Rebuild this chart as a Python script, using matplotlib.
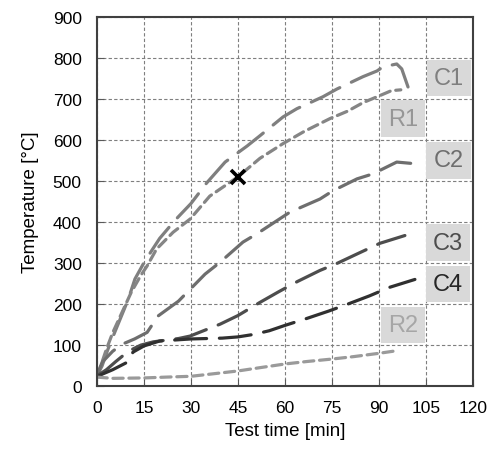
import matplotlib
matplotlib.use('Agg')
import matplotlib.pyplot as plt

plt.rcParams['font.family'] = ['Liberation Sans', 'DejaVu Sans']

# Datos
c1_t = [0, 1.6, 3.5, 5.7, 10, 12.1, 15.3, 20, 25, 30, 35, 40.9, 47.9, 52, 59.4, 63.8, 72.1, 76.6, 84.9, 89.4, 91.3, 95.7, 97.3, 99.3]
c1_T = [25, 49, 90, 132, 212, 261, 305, 360, 405, 445, 495, 546, 585, 610, 656, 676, 705, 724, 754, 768, 778, 785, 773, 729]

r1_t = [0, 1, 3, 5, 8, 11, 14, 16, 19, 24.3, 29.7, 36, 45, 52, 59.4, 66, 74.4, 80, 85, 90, 94, 97]
r1_T = [25, 45, 90, 130, 180, 230, 270, 293, 334, 375, 407, 463, 510, 555, 591, 620, 652, 670, 691, 707, 720, 722]

c2_t = [0, 1.6, 5, 8, 12, 16, 19.5, 26, 34.5, 39.3, 46.6, 51, 57.4, 61.6, 71.2, 75.3, 83, 88, 95.7, 101.5]
c2_T = [25, 58, 85, 102, 115, 131, 171, 207, 273, 302, 351, 371, 403, 424, 456, 476, 505, 517, 546, 542]

c3_t = [0, 3, 6, 10, 14, 18, 22, 26, 29.7, 34, 39.3, 45, 52, 58, 64, 71.2, 76.6, 83, 90.3, 98.3]
c3_T = [25, 40, 60, 85, 100, 108, 112, 116, 122, 135, 151, 172, 204, 230, 255, 282, 299, 322, 348, 367]

c4_t = [0, 1.6, 5, 9.6, 11.5, 15, 20, 24, 30, 35, 40, 45, 50, 55, 60, 67, 74, 80.8, 87, 93.5, 101.5]
c4_T = [22, 29, 40, 58, 83, 98, 110, 112, 115, 116, 117, 120, 126, 135, 148, 165, 183, 202, 220, 241, 260]

r2_t = [0, 5, 15, 22, 30, 37, 45, 52, 60, 67, 75, 82, 90, 94.5]
r2_T = [22, 19, 20, 22, 24, 30, 37, 45, 54, 60, 66, 72, 80, 85]

marca_t = [45]
marca_T = [510]

etiquetas = ['C1', 'R1', 'C2', 'C3', 'C4', 'R2']
etiq_x = [112.3, 97.7, 112.2, 112, 112, 97.7]
etiq_y = [750, 652, 550, 350, 249, 150]
etiq_color = ['#7f7f7f', '#969696', '#6e6e6e', '#4d4d4d', '#262626', '#a6a6a6']

fig = plt.figure(figsize=(4.9, 4.56), dpi=100)
ax = fig.add_axes([0.198, 0.151, 0.767, 0.810])

largo = (10, 4)
corto = (3.2, 1.8)
lw = 2.3

ax.plot(c1_t, c1_T, color='#7f7f7f', lw=lw, dashes=largo, dash_capstyle='round')
ax.plot(r1_t, r1_T, color='#858585', lw=lw, dashes=corto, dash_capstyle='round')
ax.plot(c2_t, c2_T, color='#6e6e6e', lw=lw, dashes=largo, dash_capstyle='round')
ax.plot(c3_t, c3_T, color='#4d4d4d', lw=lw, dashes=largo, dash_capstyle='round')
ax.plot(c4_t, c4_T, color='#303030', lw=lw, dashes=largo, dash_capstyle='round')
ax.plot(r2_t, r2_T, color='#9a9a9a', lw=lw, dashes=corto, dash_capstyle='round')

ax.plot(marca_t, marca_T, 'x', color='black', ms=10, mew=2.6, zorder=5)

for txt, x, y, c in zip(etiquetas, etiq_x, etiq_y, etiq_color):
    ax.text(x, y, txt, fontsize=17, color=c, ha='center', va='center',
            bbox=dict(boxstyle='square,pad=0.3', facecolor='#d9d9d9', edgecolor='none'))

ax.set_xlim(0, 120)
ax.set_ylim(0, 900)
ax.set_xticks(range(0, 121, 15))
ax.set_yticks(range(0, 901, 100))
ax.grid(True, color='#7f7f7f', linestyle=(0, (3, 2)), linewidth=0.8)
ax.set_axisbelow(True)

ax.tick_params(direction='in', length=5, width=0.8, color='#595959', labelsize=12.5)
ax.tick_params(axis='x', pad=10)
ax.tick_params(axis='y', pad=11)
for s in ax.spines.values():
    s.set_color('#404040')
    s.set_linewidth(1.5)

ax.set_xlabel('Test time [min]', fontsize=13.5, labelpad=5)
ax.set_ylabel('Temperature [°C]', fontsize=13.5, labelpad=10)

plt.savefig('out.png', dpi=100)
